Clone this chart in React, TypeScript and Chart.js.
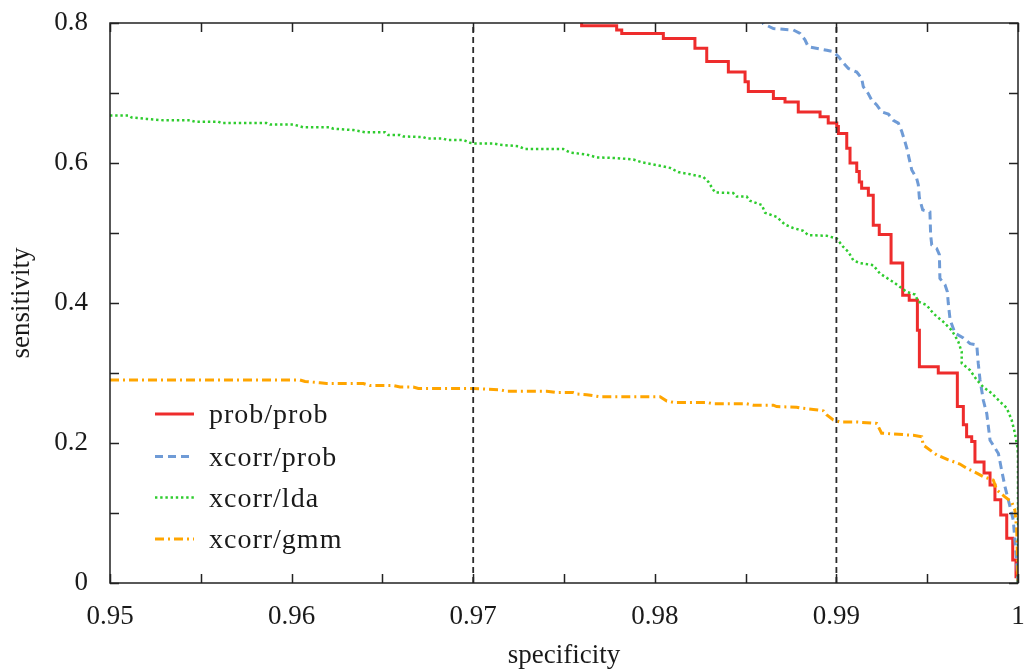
import React, { useEffect, useRef } from 'react';
import { Chart, registerables } from 'chart.js';

Chart.register(...registerables);

// ---- data (specificity, sensitivity) ----
const PROB_PROB: number[][] = [
  [0.972, 0.83], [0.97597, 0.796], [0.9779, 0.79], [0.97818, 0.785], [0.98047, 0.778],
  [0.98221, 0.764], [0.98286, 0.745], [0.98405, 0.73], [0.98497, 0.716], [0.98515, 0.702],
  [0.98653, 0.692], [0.98717, 0.687], [0.9879, 0.673], [0.9891, 0.666], [0.98955, 0.657],
  [0.99002, 0.652], [0.99011, 0.642], [0.99057, 0.621], [0.99075, 0.6], [0.99112, 0.588],
  [0.99126, 0.573], [0.99139, 0.564], [0.99176, 0.554], [0.99203, 0.511], [0.99236, 0.498],
  [0.99301, 0.457], [0.99365, 0.411], [0.99401, 0.404], [0.99446, 0.361], [0.99457, 0.309],
  [0.99561, 0.3], [0.99666, 0.252], [0.99699, 0.226], [0.99717, 0.209], [0.99745, 0.202],
  [0.99763, 0.173], [0.99813, 0.157], [0.99846, 0.14], [0.99873, 0.119], [0.99905, 0.097],
  [0.99938, 0.064], [0.99971, 0.033], [0.99989, 0.009], [1.0, 0.0],
];

const XCORR_PROB: number[][] = [
  [0.9859, 0.81], [0.98598, 0.799], [0.98653, 0.792], [0.98763, 0.79], [0.988, 0.785],
  [0.98827, 0.776], [0.98845, 0.766], [0.98947, 0.761], [0.98983, 0.759], [0.99011, 0.752],
  [0.99038, 0.743], [0.99066, 0.735], [0.99112, 0.73], [0.99139, 0.721], [0.99148, 0.709],
  [0.99176, 0.699], [0.99194, 0.69], [0.99222, 0.683], [0.99249, 0.673], [0.99286, 0.67],
  [0.99313, 0.661], [0.99341, 0.657], [0.9936, 0.645], [0.99378, 0.63], [0.9939, 0.619],
  [0.994, 0.607], [0.99415, 0.59], [0.99442, 0.578], [0.99451, 0.569], [0.99457, 0.55],
  [0.99475, 0.533], [0.99515, 0.53], [0.99519, 0.497], [0.99525, 0.483], [0.99552, 0.478],
  [0.99567, 0.469], [0.9957, 0.435], [0.99598, 0.426], [0.99611, 0.416], [0.99616, 0.4],
  [0.99626, 0.376], [0.99653, 0.357], [0.99699, 0.35], [0.99736, 0.342], [0.99773, 0.34],
  [0.99781, 0.314], [0.99791, 0.29], [0.99809, 0.261], [0.99828, 0.242], [0.99846, 0.204],
  [0.99892, 0.185], [0.9991, 0.161], [0.99928, 0.138], [0.99956, 0.109], [0.99974, 0.09],
  [0.99983, 0.061], [0.99993, 0.028], [1.0, 0.0],
];

const XCORR_LDA: number[][] = [
  [0.95, 0.668], [0.95101, 0.668], [0.95119, 0.665], [0.95202, 0.663], [0.95294, 0.661],
  [0.95441, 0.661], [0.95468, 0.659], [0.95596, 0.659], [0.95615, 0.657], [0.95863, 0.657],
  [0.95881, 0.655], [0.96009, 0.655], [0.96037, 0.653], [0.96064, 0.651], [0.96211, 0.651],
  [0.9623, 0.649], [0.9634, 0.647], [0.96404, 0.644], [0.96514, 0.644], [0.96532, 0.64],
  [0.96597, 0.64], [0.96615, 0.638], [0.96725, 0.637], [0.96744, 0.635], [0.96835, 0.635],
  [0.96854, 0.633], [0.96945, 0.633], [0.96982, 0.629], [0.97, 0.628], [0.97111, 0.628],
  [0.97148, 0.626], [0.97248, 0.624], [0.97285, 0.62], [0.97496, 0.62], [0.97533, 0.615],
  [0.97625, 0.612], [0.9768, 0.608], [0.9779, 0.607], [0.97882, 0.605], [0.97928, 0.601],
  [0.98029, 0.596], [0.98084, 0.593], [0.98129, 0.587], [0.98194, 0.584], [0.98267, 0.58],
  [0.98295, 0.573], [0.98331, 0.558], [0.98432, 0.557], [0.98451, 0.552], [0.98506, 0.552],
  [0.98524, 0.546], [0.98589, 0.54], [0.98607, 0.529], [0.98671, 0.523], [0.98717, 0.512],
  [0.98763, 0.507], [0.98818, 0.503], [0.98845, 0.497], [0.98947, 0.496], [0.99002, 0.492],
  [0.99038, 0.48], [0.99066, 0.473], [0.99093, 0.461], [0.9913, 0.457], [0.99203, 0.454],
  [0.9924, 0.442], [0.99313, 0.43], [0.99387, 0.416], [0.99433, 0.412], [0.99451, 0.402],
  [0.99497, 0.397], [0.99534, 0.385], [0.99589, 0.373], [0.99635, 0.361], [0.99671, 0.345],
  [0.9969, 0.33], [0.9969, 0.314], [0.99736, 0.304], [0.99773, 0.29], [0.99809, 0.28],
  [0.99855, 0.271], [0.99901, 0.259], [0.99938, 0.25], [0.99965, 0.233], [0.99983, 0.214],
  [0.99996, 0.195], [1.0, 0.185], [1.0, 0.0],
];

const XCORR_GMM: number[][] = [
  [0.95, 0.29], [0.96046, 0.29], [0.96074, 0.288], [0.96156, 0.286], [0.96193, 0.285],
  [0.96395, 0.285], [0.96432, 0.282], [0.9656, 0.282], [0.96597, 0.28], [0.9667, 0.28],
  [0.96698, 0.278], [0.97, 0.278], [0.97148, 0.276], [0.97184, 0.274], [0.97405, 0.274],
  [0.9746, 0.272], [0.97551, 0.272], [0.9757, 0.27], [0.97625, 0.269], [0.97698, 0.266],
  [0.98029, 0.266], [0.98066, 0.26], [0.98102, 0.258], [0.98286, 0.258], [0.98322, 0.256],
  [0.98506, 0.256], [0.98542, 0.254], [0.98653, 0.254], [0.98671, 0.252], [0.98781, 0.251],
  [0.988, 0.25], [0.98873, 0.248], [0.98928, 0.246], [0.98947, 0.24], [0.98983, 0.233],
  [0.9902, 0.23], [0.99112, 0.23], [0.99222, 0.228], [0.99249, 0.214], [0.99424, 0.211],
  [0.9947, 0.209], [0.99478, 0.197], [0.99552, 0.183], [0.99616, 0.176], [0.9968, 0.17],
  [0.99717, 0.164], [0.99773, 0.157], [0.99809, 0.152], [0.99864, 0.147], [0.99883, 0.133],
  [0.99928, 0.123], [0.99965, 0.116], [0.99983, 0.104], [0.99993, 0.076], [1.0, 0.0],
];

const SERIES_NAMES = ['prob/prob', 'xcorr/prob', 'xcorr/lda', 'xcorr/gmm'];
const THRESHOLDS = [0.97, 0.99];

const X_TICKS = [0.95, 0.955, 0.96, 0.965, 0.97, 0.975, 0.98, 0.985, 0.99, 0.995, 1.0];
const X_LABELS = ['0.95', '', '0.96', '', '0.97', '', '0.98', '', '0.99', '', '1'];
const Y_TICKS = [0, 0.1, 0.2, 0.3, 0.4, 0.5, 0.6, 0.7, 0.8];
const Y_LABELS = ['0', '', '0.2', '', '0.4', '', '0.6', '', '0.8'];

const FONT = "'Liberation Serif', 'Times New Roman', serif";
const TEXT = '#1a1a1a';

const toXY = (arr: number[][]) => arr.map(([x, y]) => ({ x, y }));

const framePlugin = {
  id: 'frameTicksLegend',
  afterDatasetsDraw(chart: any) {
    const { ctx, chartArea: a, scales } = chart;
    ctx.save();
    ctx.strokeStyle = '#222';
    ctx.lineWidth = 1.5;
    const tl = 9;
    ctx.beginPath();
    X_TICKS.forEach((v) => {
      const px = Math.round(scales.x.getPixelForValue(v)) + 0.5;
      ctx.moveTo(px, a.bottom);
      ctx.lineTo(px, a.bottom - tl);
      ctx.moveTo(px, a.top);
      ctx.lineTo(px, a.top + tl);
    });
    Y_TICKS.forEach((v) => {
      const py = Math.round(scales.y.getPixelForValue(v)) + 0.5;
      ctx.moveTo(a.left, py);
      ctx.lineTo(a.left + tl, py);
      ctx.moveTo(a.right, py);
      ctx.lineTo(a.right - tl, py);
    });
    ctx.stroke();
    ctx.strokeRect(a.left, a.top, a.right - a.left, a.bottom - a.top);

    // legend inside plot
    const rowY = [414, 456.5, 497.5, 539];
    for (let i = 0; i < SERIES_NAMES.length; i++) {
      const ds = chart.data.datasets[i];
      const y = rowY[i];
      ctx.save();
      ctx.strokeStyle = ds.borderColor;
      ctx.lineWidth = ds.borderWidth;
      ctx.setLineDash(ds.borderDash || []);
      ctx.lineCap = 'butt';
      ctx.beginPath();
      ctx.moveTo(a.left + 45, y);
      ctx.lineTo(a.left + 84, y);
      ctx.stroke();
      ctx.restore();
      ctx.save();
      ctx.fillStyle = TEXT;
      ctx.font = `28px ${FONT}`;
      try { (ctx as any).letterSpacing = '1px'; } catch (e) { /* ignore */ }
      ctx.textAlign = 'left';
      ctx.textBaseline = 'alphabetic';
      ctx.fillText(SERIES_NAMES[i], a.left + 99, y + 9);
      ctx.restore();
    }
    ctx.restore();
  },
};

export default function App() {
  const canvasRef = useRef<HTMLCanvasElement | null>(null);

  useEffect(() => {
    document.body.style.margin = '0';
    const canvas = canvasRef.current;
    if (!canvas) return;
    const chart = new Chart(canvas, {
      type: 'line',
      data: {
        datasets: [
          {
            label: SERIES_NAMES[0],
            data: toXY(PROB_PROB),
            borderColor: '#ee2c2c',
            borderWidth: 3,
            stepped: true,
            order: 4,
          },
          {
            label: SERIES_NAMES[1],
            data: toXY(XCORR_PROB),
            borderColor: '#6f9bd6',
            borderWidth: 3,
            borderDash: [8, 5],
            order: 3,
          },
          {
            label: SERIES_NAMES[2],
            data: toXY(XCORR_LDA),
            borderColor: '#2ecc2e',
            borderWidth: 2.5,
            borderDash: [2.4, 2.8],
            order: 2,
          },
          {
            label: SERIES_NAMES[3],
            data: toXY(XCORR_GMM),
            borderColor: '#ffa500',
            borderWidth: 3,
            borderDash: [9, 4, 2, 4],
            order: 1,
          },
          ...THRESHOLDS.map((t) => ({
            label: 'threshold',
            data: [{ x: t, y: 0 }, { x: t, y: 0.8 }],
            borderColor: '#2a2a2a',
            borderWidth: 1.8,
            borderDash: [6, 4],
            order: 0,
          })),
        ],
      },
      options: {
        animation: false,
        responsive: true,
        maintainAspectRatio: false,
        parsing: false as any,
        elements: { point: { radius: 0, hoverRadius: 0 }, line: { tension: 0, fill: false } },
        layout: { padding: { top: 23, right: 6, left: 0, bottom: 0 } },
        plugins: {
          legend: { display: false },
          tooltip: { enabled: false },
        },
        scales: {
          x: {
            type: 'linear',
            min: 0.95,
            max: 1.0,
            grid: { display: false },
            border: { display: false },
            afterBuildTicks: (s: any) => {
              s.ticks = X_TICKS.map((v) => ({ value: v }));
            },
            afterFit: (s: any) => {
              s.height = 87;
              s.paddingLeft = 0;
              s.paddingRight = 0;
            },
            ticks: {
              autoSkip: false,
              maxRotation: 0,
              padding: 10,
              color: TEXT,
              font: { family: FONT, size: 27 },
              callback: (_v: any, i: number) => X_LABELS[i],
            },
            title: {
              display: true,
              text: 'specificity',
              color: TEXT,
              font: { family: FONT, size: 27 },
              padding: { top: 0, bottom: -2 },
            },
          },
          y: {
            type: 'linear',
            min: 0,
            max: 0.8,
            grid: { display: false },
            border: { display: false },
            afterBuildTicks: (s: any) => {
              s.ticks = Y_TICKS.map((v) => ({ value: v }));
            },
            afterFit: (s: any) => {
              s.width = 110;
              s.paddingTop = 0;
              s.paddingBottom = 0;
            },
            ticks: {
              autoSkip: false,
              padding: 14,
              color: TEXT,
              font: { family: FONT, size: 27 },
              callback: (_v: any, i: number) => Y_LABELS[i],
            },
            title: {
              display: true,
              text: 'sensitivity',
              color: TEXT,
              font: { family: FONT, size: 27 },
              padding: { top: 6, bottom: 0 },
            },
          },
        },
      },
      plugins: [framePlugin],
    } as any);
    return () => chart.destroy();
  }, []);

  return (
    <div style={{ width: 1024, height: 670, position: 'relative' }}>
      <canvas ref={canvasRef} />
    </div>
  );
}
